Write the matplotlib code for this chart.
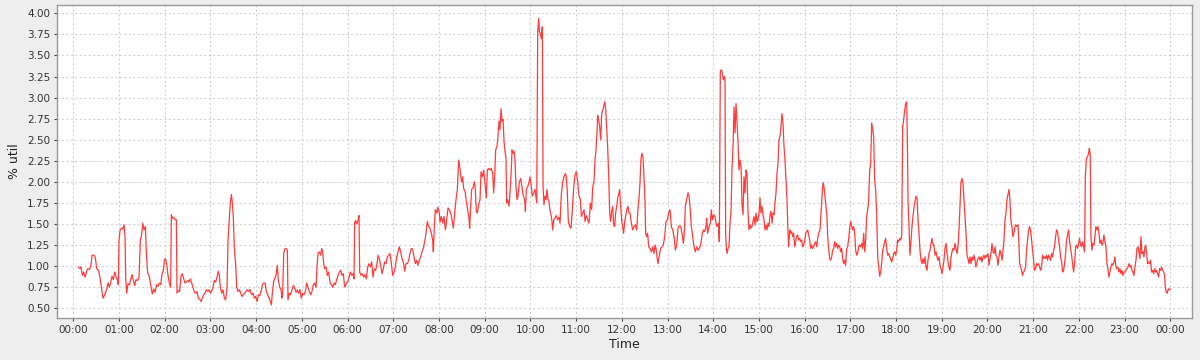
import matplotlib
matplotlib.use("Agg")
import matplotlib.pyplot as plt
from matplotlib.ticker import FixedLocator, FuncFormatter

# minutes since midnight
minutes = [
    6.6, 8.8, 10.1, 11.9, 13.6, 15.4, 17.1, 18.9, 21.1, 22.8, 24.6, 27.2, 28.9, 30.7, 32.9, 34.6,
    36.8, 39.0, 41.2, 43.4, 45.6, 47.3, 49.1, 50.8, 52.6, 54.3, 56.1, 57.8, 59.1, 60.0, 61.3, 63.1,
    64.8, 66.6, 67.9, 68.8, 70.1, 71.8, 73.6, 75.3, 77.1, 78.8, 80.6, 82.3, 84.5, 86.3, 88.0, 89.8,
    91.1, 92.8, 94.6, 95.9, 97.6, 99.8, 102.0, 103.8, 105.5, 107.3,
    109.4, 111.2, 113.0, 114.7, 116.5, 118.2, 119.5, 120.8, 122.6, 124.3, 126.1, 127.8, 128.7, 130.0,
    131.8, 133.5, 135.3, 136.1, 137.9, 139.6, 141.4, 143.1, 144.9, 146.6, 148.4, 150.1, 151.9, 153.6,
    155.4, 157.1, 158.9, 160.6, 162.4, 164.1, 165.9, 167.6, 169.4, 171.1, 172.9, 174.6, 176.4, 178.1,
    179.9, 181.6, 183.4, 185.1, 186.9, 188.6, 190.4, 191.7, 193.0, 194.8, 196.5, 198.3, 200.0, 201.8,
    203.1, 204.8, 206.1, 207.5, 208.8, 210.1, 211.4, 213.1, 214.5, 216.2, 218.0, 219.7, 221.5, 223.2,
    225.0, 226.7, 228.5, 230.2,
    231.9, 234.2, 235.9, 237.6, 239.4, 241.2, 242.9, 244.7, 246.4, 248.2, 249.9, 251.7, 253.4, 255.2,
    256.9, 258.7, 260.0, 261.3, 263.0, 264.8, 266.5, 267.8, 269.2, 270.9, 272.7, 274.0, 274.8, 276.2,
    277.5, 279.2, 281.0, 281.8, 283.6, 285.3, 287.1, 288.8, 290.6, 292.3, 294.1, 295.8, 297.6, 299.3,
    301.1, 302.8, 304.6, 306.3, 308.1, 309.8, 311.6, 313.3, 315.1, 316.8, 318.6, 319.9, 321.2, 322.9,
    324.7, 326.0, 327.3, 328.7, 330.0, 331.7, 333.5, 335.2, 337.0, 338.7, 340.5, 342.2, 344.0, 345.7,
    347.5, 349.2, 351.0, 352.7, 354.5, 355.8,
    356.7, 358.4, 360.2, 361.9, 363.7, 365.4, 367.2, 368.5, 369.3, 370.7, 372.0, 373.7, 375.0, 375.9,
    377.7, 379.4, 381.2, 382.9, 384.7, 386.4, 388.2, 389.9, 391.7, 393.4, 395.2, 396.9, 398.7, 400.0,
    401.7, 403.5, 405.2, 407.0, 408.7, 410.5, 412.2, 414.0, 415.7, 417.5, 419.2, 421.0, 422.7, 424.5,
    426.2, 428.0, 429.7, 431.5, 433.2, 435.0, 436.7, 438.5, 440.2, 442.0, 443.7, 445.5, 447.2, 449.0,
    450.7, 452.5, 454.2, 456.0, 457.7, 459.5, 461.2, 463.0, 464.7, 466.5, 468.2, 470.0, 471.7, 472.6,
    473.9, 475.2, 477.0, 478.7, 480.5,
    481.4, 483.1, 484.9, 486.6, 488.4, 490.1, 491.9, 493.6, 495.4, 497.1, 498.9, 500.6, 502.4, 504.1,
    505.9, 507.2, 508.5, 509.8, 511.1, 512.4, 514.2, 515.9, 517.7, 519.4, 520.3, 521.6, 522.9, 524.7,
    526.4, 527.7, 529.0, 530.4, 532.1, 533.9, 535.2, 537.0, 538.7, 540.4, 542.2, 543.5, 545.2, 547.0,
    548.7, 550.5, 551.8, 553.1, 554.4, 556.2, 557.5, 558.8, 560.1, 561.4, 562.7, 564.1, 565.4, 566.7,
    568.0, 568.9, 570.2, 572.0, 573.2, 574.6, 575.9, 577.2, 578.5, 579.8, 581.1, 582.4, 583.7, 585.5,
    587.2, 589.0, 590.7, 592.5, 593.4, 594.7, 596.4, 598.2, 599.5, 600.8, 602.5, 604.3,
    606.1, 607.4, 608.3, 609.6, 610.9, 611.8, 613.1, 614.4, 615.7, 616.6, 617.9, 619.2, 620.5, 621.8,
    623.1, 624.4, 625.8, 627.1, 628.4, 629.3, 630.6, 632.3, 634.1, 635.8, 637.6, 638.9, 640.6, 642.4,
    644.1, 645.9, 647.2, 648.5, 649.8, 651.6, 653.3, 655.1, 656.8, 658.6, 660.3, 662.1, 663.8, 665.6,
    666.9, 668.6, 670.4, 671.7, 673.4, 675.2, 676.9, 678.7, 680.4, 681.8, 683.5, 684.8, 686.1, 687.4,
    688.3, 689.6, 690.9, 692.3, 693.6, 694.9, 696.2, 697.5, 698.8, 700.1, 701.4, 702.8, 704.1, 705.4,
    706.7, 708.0, 709.3, 710.6, 711.9, 713.3, 714.6, 715.9, 717.2, 718.5, 719.8, 721.1, 722.4, 723.8,
    725.1, 726.4, 728.1, 729.4,
    730.8, 732.5, 734.3, 736.0, 737.8, 739.5, 741.3, 742.6, 743.9, 745.2, 746.5, 747.8, 749.1, 750.5,
    751.3, 752.6, 753.9, 755.3, 757.0, 758.8, 760.5, 762.3, 763.6, 764.9, 766.2, 767.5, 769.3, 771.0,
    772.8, 774.5, 776.3, 778.0, 779.8, 781.5, 783.3, 785.0, 786.8, 788.5, 790.3, 792.0, 793.8, 795.5,
    797.3, 799.0, 800.8, 802.1, 803.4, 805.1, 806.9, 808.2, 809.5, 811.3, 813.0, 814.8, 816.5, 818.3,
    820.0, 821.8, 823.5, 825.3, 827.0, 828.8, 830.5, 831.4, 832.7, 834.5, 836.2, 837.5, 838.8, 840.6,
    842.3, 843.6, 844.9, 846.7, 848.0, 849.3, 850.6, 851.9, 853.3, 854.6,
    855.5, 856.3, 857.2, 858.1, 859.4, 860.7, 862.0, 863.3, 864.6, 866.0, 867.3, 868.6, 869.9, 871.2,
    872.5, 873.8, 875.2, 876.5, 877.8, 879.1, 880.4, 881.7, 883.0, 884.3, 885.7, 887.0, 888.3, 889.6,
    890.9, 892.2, 893.5, 894.8, 896.2, 897.5, 898.8, 900.1, 901.4, 902.7, 904.0, 905.3, 906.7, 908.0,
    909.3, 910.6, 911.9, 913.2, 914.5, 915.8, 917.2, 918.5, 919.8, 921.1, 922.4, 923.7, 925.0, 926.3,
    927.7, 929.0, 930.3, 931.6, 932.9, 934.2, 935.5, 936.8, 938.2, 939.0, 940.4, 941.7, 943.0, 944.3,
    945.6, 946.9, 948.2, 949.5, 950.8, 952.2, 953.5, 954.8, 956.1, 957.4, 958.7, 960.0, 961.3, 962.7,
    964.0, 965.3, 966.6, 967.9, 969.2, 970.5, 971.8, 973.1, 974.5, 975.8, 977.1, 978.4,
    980.2, 981.5, 982.8, 984.1, 985.4, 986.7, 988.0, 989.3, 990.2, 991.5, 992.8, 994.2, 995.5, 996.8,
    998.1, 999.4, 1000.7, 1002.0, 1003.3, 1004.7, 1006.0, 1007.3, 1008.6, 1009.9, 1011.2, 1012.5,
    1013.8, 1015.2, 1016.5, 1017.8, 1019.1, 1020.4, 1021.7, 1023.0, 1024.3, 1025.7, 1027.0, 1028.3,
    1029.6, 1030.9, 1032.2, 1033.5, 1034.8, 1036.2, 1037.5, 1038.8, 1040.1, 1041.4, 1042.7, 1044.0,
    1045.4, 1046.7, 1048.0, 1049.3, 1050.6, 1051.9, 1053.2, 1054.5, 1055.9, 1057.2, 1058.5, 1059.8,
    1061.1, 1062.4, 1063.7, 1065.0, 1066.4, 1067.7, 1069.0, 1070.3, 1071.6, 1072.9, 1074.2, 1075.5,
    1076.9, 1078.2, 1079.5, 1080.8, 1082.1, 1083.4, 1084.7, 1086.0, 1087.4, 1088.7, 1090.0, 1091.3,
    1092.6, 1093.9, 1094.8, 1095.7, 1097.0, 1098.3, 1099.6, 1100.9, 1102.2, 1103.5,
    1104.9, 1106.2, 1107.5, 1108.8, 1110.1, 1111.4, 1112.7, 1114.1, 1115.4, 1116.7, 1118.0, 1119.3,
    1120.6, 1121.9, 1123.2, 1124.6, 1125.9, 1127.2, 1128.5, 1129.8, 1131.1, 1132.4, 1133.7, 1135.1,
    1136.4, 1137.7, 1139.0, 1140.3, 1141.6, 1142.9, 1144.2, 1145.6, 1146.9, 1148.2, 1149.5, 1150.8,
    1152.1, 1153.4, 1154.7, 1156.1, 1157.4, 1158.7, 1160.0, 1161.3, 1162.6, 1163.9, 1165.2, 1166.6,
    1167.9, 1169.2, 1170.5, 1171.8, 1173.1, 1174.4, 1175.7, 1177.1, 1178.4, 1179.7, 1181.0, 1182.3,
    1183.6, 1184.9, 1186.2, 1187.6, 1188.9, 1190.2, 1191.5, 1192.8, 1194.1, 1195.4, 1196.7, 1198.1,
    1199.4, 1200.7, 1202.0, 1203.3, 1204.6, 1205.9, 1207.2, 1208.6, 1209.9, 1211.2, 1212.5, 1213.8,
    1215.1, 1216.4, 1217.7, 1219.1, 1220.4, 1221.7, 1223.0, 1224.3, 1225.6, 1226.9, 1228.2,
    1229.5, 1230.4, 1231.2, 1232.1, 1233.4, 1234.7, 1236.0, 1237.3, 1238.7, 1240.0, 1241.3, 1242.2,
    1243.5, 1244.8, 1246.1, 1247.4, 1248.7, 1250.0, 1251.3, 1252.7, 1254.0, 1255.3, 1256.6, 1257.9,
    1259.2, 1260.5, 1261.8, 1263.2, 1264.5, 1265.8, 1267.1, 1268.4, 1269.7, 1271.0, 1272.3, 1273.7,
    1275.0, 1276.3, 1277.6, 1278.9, 1280.2, 1281.5, 1282.8, 1284.2, 1285.5, 1286.8, 1288.1, 1289.4,
    1290.7, 1292.0, 1293.3, 1294.7, 1296.0, 1297.3, 1298.6, 1299.9, 1301.2, 1302.5, 1303.8, 1305.2,
    1306.5, 1307.8, 1309.1, 1310.4, 1311.7, 1313.0, 1314.3, 1315.7, 1317.0, 1318.3, 1319.6, 1320.9,
    1322.2, 1323.5, 1324.8, 1326.2, 1327.5, 1328.4, 1329.7, 1331.0, 1332.3, 1333.6, 1334.9, 1335.8,
    1337.1, 1338.4, 1339.7, 1341.0, 1342.3, 1343.7, 1345.0, 1346.3, 1347.6, 1348.9, 1350.2, 1351.5,
    1352.8,
    1354.2, 1355.5, 1356.8, 1358.1, 1359.4, 1360.7, 1362.0, 1363.4, 1364.7, 1366.0, 1367.3, 1368.6,
    1369.9, 1371.2, 1372.5, 1373.9, 1375.2, 1376.5, 1377.8, 1379.1, 1380.4, 1381.7, 1383.0, 1384.4,
    1385.7, 1387.0, 1388.3, 1389.6, 1390.9, 1392.2, 1393.5, 1394.9, 1396.2, 1397.5, 1398.8, 1400.1,
    1401.4, 1402.7, 1404.0, 1405.4, 1406.7, 1407.6, 1408.9, 1410.2, 1411.5, 1412.8, 1414.1, 1415.4,
    1416.7, 1418.1, 1419.4, 1420.7, 1422.0, 1423.3, 1424.6, 1425.9, 1427.2, 1428.6, 1429.9, 1431.2,
    1432.5, 1433.4, 1434.7, 1436.0, 1437.3, 1438.6, 1439.9,
]

util = [
    0.99, 0.97, 0.99, 0.89, 0.93, 0.87, 0.93, 0.97, 0.96, 0.99, 1.13, 1.13, 1.10, 0.97, 0.95, 0.89,
    0.75, 0.62, 0.66, 0.71, 0.80, 0.75, 0.81, 0.88, 0.84, 0.93, 0.87, 0.84, 0.78, 1.30, 1.42, 1.45,
    1.44, 1.49, 1.34, 0.85, 0.68, 0.79, 0.78, 0.84, 0.90, 0.83, 0.77, 0.84, 0.83, 0.87, 1.30, 1.38,
    1.51, 1.43, 1.47, 1.16, 0.92, 0.88, 0.75, 0.67, 0.73, 0.69,
    0.78, 0.76, 0.80, 0.78, 0.91, 0.95, 1.07, 1.09, 1.03, 0.89, 0.80, 0.75, 1.61, 1.57,
    1.58, 1.55, 1.55, 0.68, 0.71, 0.70, 0.89, 0.91, 0.85, 0.80, 0.81, 0.83, 0.81, 0.85,
    0.80, 0.75, 0.69, 0.68, 0.70, 0.62, 0.61, 0.58, 0.62, 0.66, 0.68, 0.72, 0.70, 0.72,
    0.68, 0.70, 0.75, 0.83, 0.81, 0.87, 0.94, 0.89, 0.75, 0.68, 0.72, 0.62, 0.60, 0.75,
    1.31, 1.55, 1.75, 1.85, 1.75, 1.57, 1.21, 1.03, 0.75, 0.70, 0.72, 0.68, 0.64, 0.66,
    0.68, 0.70, 0.72, 0.70,
    0.72, 0.66, 0.68, 0.62, 0.64, 0.58, 0.66, 0.65, 0.70, 0.78, 0.80, 0.80, 0.70, 0.66,
    0.62, 0.58, 0.54, 0.68, 0.82, 0.86, 0.91, 1.01, 0.83, 0.75, 0.72, 0.62, 0.68, 1.15,
    1.20, 1.21, 1.19, 0.60, 0.68, 0.66, 0.72, 0.77, 0.74, 0.69, 0.72, 0.68, 0.72, 0.62,
    0.68, 0.66, 0.70, 0.80, 0.75, 0.70, 0.66, 0.70, 0.78, 0.80, 0.75, 0.99, 1.15, 1.17,
    1.13, 1.21, 1.17, 1.03, 0.97, 0.99, 0.89, 0.93, 0.81, 0.78, 0.75, 0.80, 0.78, 0.84,
    0.89, 0.93, 0.95, 0.89, 0.91, 0.78,
    0.75, 0.80, 0.81, 0.87, 0.93, 0.89, 0.91, 0.85, 1.52, 1.54, 1.50, 1.54, 1.60, 0.93,
    0.89, 0.91, 0.87, 0.90, 0.85, 0.99, 1.03, 0.99, 1.05, 0.87, 0.97, 0.95, 1.03, 1.13,
    1.09, 1.01, 0.91, 0.97, 1.05, 1.03, 1.11, 1.13, 1.15, 1.03, 0.89, 0.93, 0.99, 1.11,
    1.17, 1.23, 1.17, 1.09, 1.05, 0.94, 1.03, 1.03, 1.07, 1.15, 1.21, 1.20, 1.11, 1.03,
    1.07, 1.01, 1.07, 1.11, 1.17, 1.21, 1.29, 1.39, 1.53, 1.47, 1.45, 1.39, 1.31, 1.17,
    1.47, 1.67, 1.63, 1.70, 1.63,
    1.52, 1.59, 1.51, 1.59, 1.43, 1.55, 1.69, 1.67, 1.63, 1.55, 1.45, 1.63, 1.79, 1.91,
    2.26, 2.18, 2.08, 2.00, 2.06, 1.92, 1.89, 1.77, 1.67, 1.57, 1.45, 1.71, 1.91, 1.93,
    2.00, 1.91, 1.65, 1.63, 1.73, 1.79, 2.12, 2.06, 2.14, 1.98, 1.81, 2.14, 2.16, 2.14,
    2.16, 2.10, 1.87, 2.06, 2.38, 2.42, 2.54, 2.72, 2.62, 2.87, 2.72, 2.74, 2.48, 2.36,
    2.28, 1.75, 1.79, 1.71, 1.87, 2.08, 2.38, 2.34, 2.36, 2.26, 1.94, 1.79, 1.83, 2.00,
    2.04, 1.94, 1.83, 1.79, 1.65, 1.91, 1.94, 2.00, 2.06, 1.98, 1.83, 1.87,
    1.91, 1.81, 1.75, 3.78, 3.94, 3.78, 3.76, 3.70, 3.84, 1.94, 1.73, 1.83, 1.79, 1.91,
    1.79, 1.77, 1.65, 1.61, 1.53, 1.43, 1.55, 1.57, 1.60, 1.55, 1.58, 1.51, 1.85, 2.00,
    2.06, 2.10, 2.06, 1.87, 1.53, 1.47, 1.45, 1.67, 1.93, 2.08, 2.12, 2.00, 1.83, 1.79,
    1.59, 1.63, 1.67, 1.53, 1.60, 1.55, 1.51, 1.75, 1.67, 1.94, 2.00, 2.26, 2.38, 2.58,
    2.79, 2.73, 2.66, 2.50, 2.81, 2.85, 2.89, 2.95, 2.87, 2.64, 2.42, 2.06, 1.63, 1.53,
    1.65, 1.71, 1.49, 1.47, 1.63, 1.71, 1.81, 1.85, 1.91, 1.71, 1.55, 1.47, 1.39, 1.53,
    1.59, 1.67, 1.71, 1.63,
    1.63, 1.51, 1.43, 1.47, 1.49, 1.43, 1.69, 1.81, 2.00, 2.28, 2.34, 2.30, 2.06, 1.75,
    1.39, 1.35, 1.39, 1.23, 1.21, 1.17, 1.23, 1.15, 1.25, 1.21, 1.11, 1.03, 1.13, 1.21,
    1.23, 1.25, 1.35, 1.53, 1.55, 1.63, 1.67, 1.47, 1.43, 1.35, 1.19, 1.25, 1.45, 1.48,
    1.47, 1.39, 1.27, 1.39, 1.71, 1.79, 1.87, 1.83, 1.71, 1.47, 1.35, 1.23, 1.17, 1.23,
    1.19, 1.21, 1.25, 1.37, 1.43, 1.41, 1.47, 1.57, 1.39, 1.47, 1.51, 1.67, 1.55, 1.61,
    1.59, 1.51, 1.47, 1.51, 1.29, 3.31, 3.33, 3.29, 3.21, 3.25,
    3.21, 1.39, 1.21, 1.15, 1.21, 1.23, 1.51, 1.63, 2.14, 2.42, 2.89, 2.58, 2.93, 2.72,
    2.48, 2.14, 2.26, 2.18, 1.73, 1.61, 2.06, 1.87, 2.14, 2.10, 1.63, 1.43, 1.49, 1.45,
    1.47, 1.53, 1.59, 1.49, 1.63, 1.53, 1.55, 1.63, 1.81, 1.63, 1.71, 1.61, 1.55, 1.43,
    1.49, 1.43, 1.51, 1.47, 1.61, 1.65, 1.51, 1.63, 1.61, 1.75, 1.87, 2.10, 2.22, 2.50,
    2.54, 2.66, 2.81, 2.70, 2.42, 2.26, 2.02, 1.79, 1.39, 1.23, 1.43, 1.39, 1.41, 1.35,
    1.39, 1.23, 1.29, 1.35, 1.37, 1.31, 1.33, 1.29, 1.31, 1.23, 1.25, 1.29, 1.39, 1.41,
    1.43, 1.37, 1.31, 1.21, 1.25, 1.21, 1.23, 1.27, 1.29, 1.23, 1.33, 1.39,
    1.43, 1.63, 1.83, 1.99, 1.94, 1.83, 1.71, 1.59, 1.35, 1.21, 1.09, 1.07, 1.11, 1.19,
    1.21, 1.29, 1.23, 1.27, 1.21, 1.25, 1.23, 1.17, 1.21, 1.09, 1.03, 1.07,
    1.01, 1.21, 1.23, 1.33, 1.45, 1.53, 1.47, 1.43, 1.47, 1.39, 1.19, 1.13,
    1.15, 1.23, 1.25, 1.23, 1.27, 1.21, 1.39, 1.17, 1.31, 1.59, 1.67, 1.77,
    2.14, 2.22, 2.70, 2.62, 2.54, 2.02, 1.91, 1.63, 1.11, 0.99, 0.88, 0.93,
    1.03, 1.19, 1.23, 1.29, 1.33, 1.21, 1.13, 1.15, 1.11, 1.09, 1.05, 1.09,
    1.15, 1.17, 1.13, 1.19, 1.31, 1.29, 1.33, 1.31, 1.35, 2.66, 2.74, 2.85,
    2.93, 2.95, 2.50, 1.79, 1.47, 1.13, 1.31, 1.47, 1.59, 1.69,
    1.77, 1.83, 1.81, 1.55, 1.39, 1.19, 1.07, 1.03, 1.09, 1.03, 1.11, 0.99,
    0.95, 1.07, 1.15, 1.19, 1.27, 1.33, 1.25, 1.25, 1.13, 1.17, 1.11, 1.07,
    1.11, 1.01, 0.97, 0.91, 0.99, 1.07, 1.21, 1.27, 1.15, 1.05, 0.99, 0.95,
    1.11, 1.17, 1.21, 1.19, 1.27, 1.21, 1.15, 1.23, 1.43, 1.71, 2.00, 2.04,
    1.98, 1.79, 1.59, 1.39, 1.13, 1.09, 1.03, 1.11, 1.03, 1.11, 1.07, 1.13,
    1.07, 0.99, 1.05, 1.09, 1.11, 1.07, 1.11, 1.05, 1.11, 1.13, 1.09, 1.13,
    1.11, 1.15, 1.01, 1.09, 1.15, 1.27, 1.17, 1.15, 1.23, 1.13, 1.11, 1.01,
    1.11, 1.19, 1.15, 1.07, 1.19, 1.31, 1.55, 1.63, 1.79, 1.85, 1.91,
    1.79, 1.59, 1.51, 1.47, 1.35, 1.39, 1.47, 1.49, 1.47, 1.49, 1.27, 1.03,
    0.99, 0.95, 0.89, 0.93, 0.95, 0.99, 1.19, 1.31, 1.43, 1.47, 1.43, 1.31,
    1.19, 1.07, 0.95, 0.97, 1.03, 1.01, 1.03, 0.99, 0.95, 0.99, 1.13, 1.09,
    1.11, 1.09, 1.13, 1.07, 1.13, 1.11, 1.07, 1.15, 1.11, 1.19, 1.23, 1.35,
    1.43, 1.41, 1.31, 1.23, 1.11, 1.05, 0.93, 0.95, 1.03, 1.15, 1.31, 1.37,
    1.43, 1.29, 1.21, 1.13, 1.03, 0.93, 1.03, 1.23, 1.25, 1.21, 1.27, 1.33,
    1.25, 1.23, 1.29, 1.23, 1.17, 2.06, 2.26, 2.30, 2.32, 2.40, 2.32, 1.35,
    1.19, 1.27, 1.25, 1.35, 1.47, 1.43, 1.47, 1.39, 1.27, 1.31, 1.25, 1.27,
    1.37,
    1.29, 1.23, 1.03, 0.97, 0.87, 0.93, 0.99, 1.03, 1.01, 1.05, 1.11, 0.99,
    0.97, 0.99, 0.93, 0.97, 0.91, 0.95, 0.89, 0.93, 0.93, 0.95, 0.97, 0.99,
    1.03, 0.99, 1.01, 0.95, 0.93, 0.89, 0.99, 1.07, 1.21, 1.23, 1.17, 1.09,
    1.35, 1.15, 1.17, 1.11, 1.23, 1.25, 1.15, 1.03, 1.05, 1.03, 1.07, 0.93,
    0.95, 0.91, 0.97, 0.93, 0.95, 0.91, 0.87, 0.97, 0.95, 0.99, 0.95, 0.93,
    0.89, 0.75, 0.69, 0.68, 0.73, 0.72, 0.73,
]

y_ticks = [0.50, 0.75, 1.00, 1.25, 1.50, 1.75, 2.00, 2.25, 2.50, 2.75, 3.00, 3.25, 3.50, 3.75, 4.00]
x_ticks = list(range(0, 1441, 60))

fig = plt.figure(figsize=(12, 3.6), dpi=100, facecolor="#eeeeee")
ax = fig.add_axes([0.0475, 0.1167, 0.9458, 0.8693])
ax.set_facecolor("white")

ax.plot(minutes, util, color="#ff3b3b", linewidth=0.9)

ax.set_xlim(-21.4, 1468.4)
ax.set_ylim(0.385, 4.098)
ax.xaxis.set_major_locator(FixedLocator(x_ticks))
ax.xaxis.set_major_formatter(FuncFormatter(lambda m, _: f"{int(m // 60) % 24:02d}:00"))
ax.yaxis.set_major_locator(FixedLocator(y_ticks))
ax.yaxis.set_major_formatter(FuncFormatter(lambda v, _: f"{v:.2f}"))

ax.grid(True, color="#d4d4d4", linestyle=(0, (2, 2)), linewidth=0.8)
ax.set_axisbelow(True)
for s in ax.spines.values():
    s.set_color("#999999")
    s.set_linewidth(1.0)

ax.tick_params(axis="both", labelsize=7.5, colors="#444444", length=2, width=0.8,
               labelcolor="#333333", pad=3)
ax.set_xlabel("Time", fontsize=9, color="#222222", labelpad=2)
ax.set_ylabel("% util", fontsize=9, color="#222222", labelpad=4)

fig.savefig("out.png", dpi=100, facecolor=fig.get_facecolor())
